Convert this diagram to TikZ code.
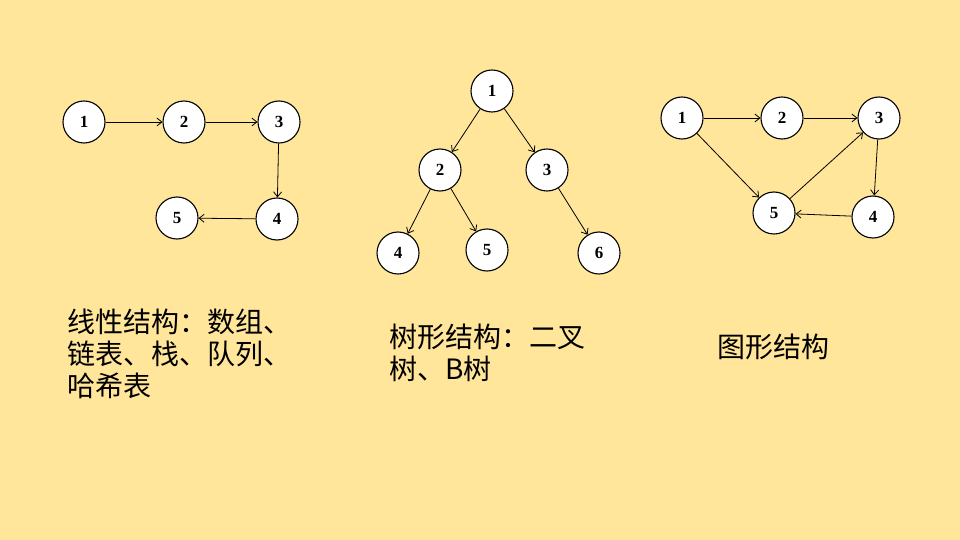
\documentclass[tikz,border=0pt]{standalone}
\usepackage{fontspec}
\setmainfont{Liberation Serif}
\newfontfamily\cjk{Noto Sans CJK SC}
\usetikzlibrary{arrows.meta, positioning}

\definecolor{bgyellow}{RGB}{255,230,155}

\tikzset{
  vert/.style={draw=black, line width=1.1pt, fill=white, circle,
               minimum size=42pt, inner sep=0pt,
               font=\bfseries\fontsize{17}{17}\selectfont},
  edge/.style={draw=black, line width=0.8pt, -{Straight Barb[length=5pt, width=8pt]}},
  caption/.style={anchor=north west, align=left, inner sep=0pt,
                  font=\cjk\fontsize{28}{32}\selectfont}
}

\begin{document}
\begin{tikzpicture}[x=1pt, y=-1pt]
  \fill[bgyellow] (0,0) rectangle (960,540);

  % linear
  \node[vert] (l1) at (84,122) {1};
  \node[vert] (l2) at (184,122) {2};
  \node[vert] (l3) at (279,122) {3};
  \node[vert] (l4) at (277,219) {4};
  \node[vert] (l5) at (177,218) {5};
  \draw[edge] (l1) -- (l2);
  \draw[edge] (l2) -- (l3);
  \draw[edge] (l3) -- (l4);
  \draw[edge] (l4) -- (l5);
  \node[caption] (ltext) at (67,309) {线性结构：数组、\\链表、栈、队列、\\哈希表};

  % tree
  \node[vert] (t1) at (492,91) {1};
  \node[vert] (t2) at (440,170) {2};
  \node[vert] (t3) at (547,170) {3};
  \node[vert] (t4) at (398,253) {4};
  \node[vert] (t5) at (487,250) {5};
  \node[vert] (t6) at (599,253) {6};
  \foreach \a/\b in {t1/t2, t1/t3, t2/t4, t2/t5, t3/t6}
    \draw[edge] (\a) -- (\b);
  \node[caption] (ttext) at (389,324) {树形结构：二叉\\树、B树};

  % graph
  \node[vert] (g1) at (682,118) {1};
  \node[vert] (g2) at (782,118) {2};
  \node[vert] (g3) at (879,118) {3};
  \node[vert] (g4) at (873,217) {4};
  \node[vert] (g5) at (774,213) {5};
  \foreach \a/\b in {g1/g2, g2/g3, g1/g5, g5/g3, g3/g4, g4/g5}
    \draw[edge] (\a) -- (\b);
  \node[caption] (gtext) at (717,334) {图形结构};
\end{tikzpicture}
\end{document}
